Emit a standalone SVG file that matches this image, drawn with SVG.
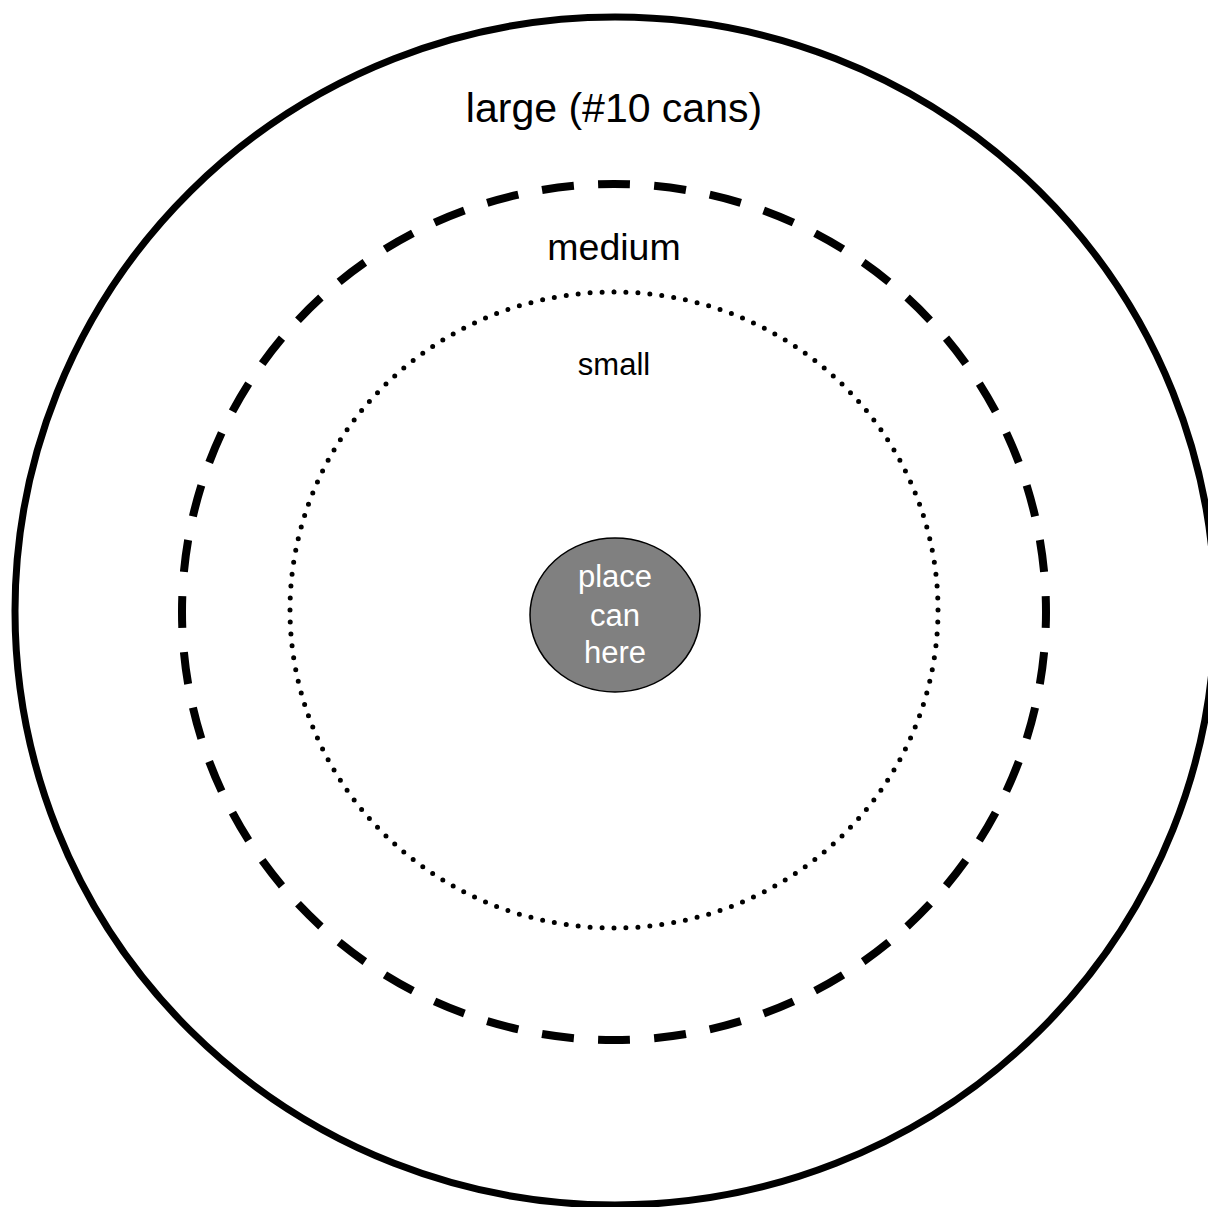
<svg xmlns="http://www.w3.org/2000/svg" width="1208" height="1207" viewBox="0 0 1208 1207">
<style>
text{font-family:"Liberation Sans",Arial,sans-serif;text-anchor:middle;fill:#000}
.ring{fill:none;stroke:#000}
</style>
<rect width="1208" height="1207" fill="#fff"/>
<g id="large">
<ellipse class="ring" cx="615" cy="611" rx="600" ry="594" stroke-width="7"/>
<text x="614" y="122" font-size="41">large (#10 cans)</text>
</g>
<g id="medium">
<path class="ring" d="M614 184 A432 428 0 0 1 1046 612 A432 428 0 0 1 614 1040 A432 428 0 0 1 182 612 A432 428 0 0 1 614 184 Z" pathLength="2688" stroke-width="8" stroke-dasharray="32 24" stroke-dashoffset="16"/>
<text x="614" y="260" font-size="37.5">medium</text>
</g>
<g id="small">
<path class="ring" d="M614 292 A324 318 0 0 1 938 610 A324 318 0 0 1 614 928 A324 318 0 0 1 290 610 A324 318 0 0 1 614 292 Z" pathLength="2016" stroke-width="5" stroke-linecap="round" stroke-dasharray="0 12"/>
<text x="614" y="375" font-size="31">small</text>
</g>
<g id="can">
<ellipse cx="615" cy="615" rx="85" ry="77" fill="#808080" stroke="#000" stroke-width="1.5"/>
<text x="615" y="587" font-size="31" style="fill:#fff">place</text>
<text x="615" y="626" font-size="31" style="fill:#fff">can</text>
<text x="615" y="663" font-size="31" style="fill:#fff">here</text>
</g>
<g id="connectors"/>
</svg>
